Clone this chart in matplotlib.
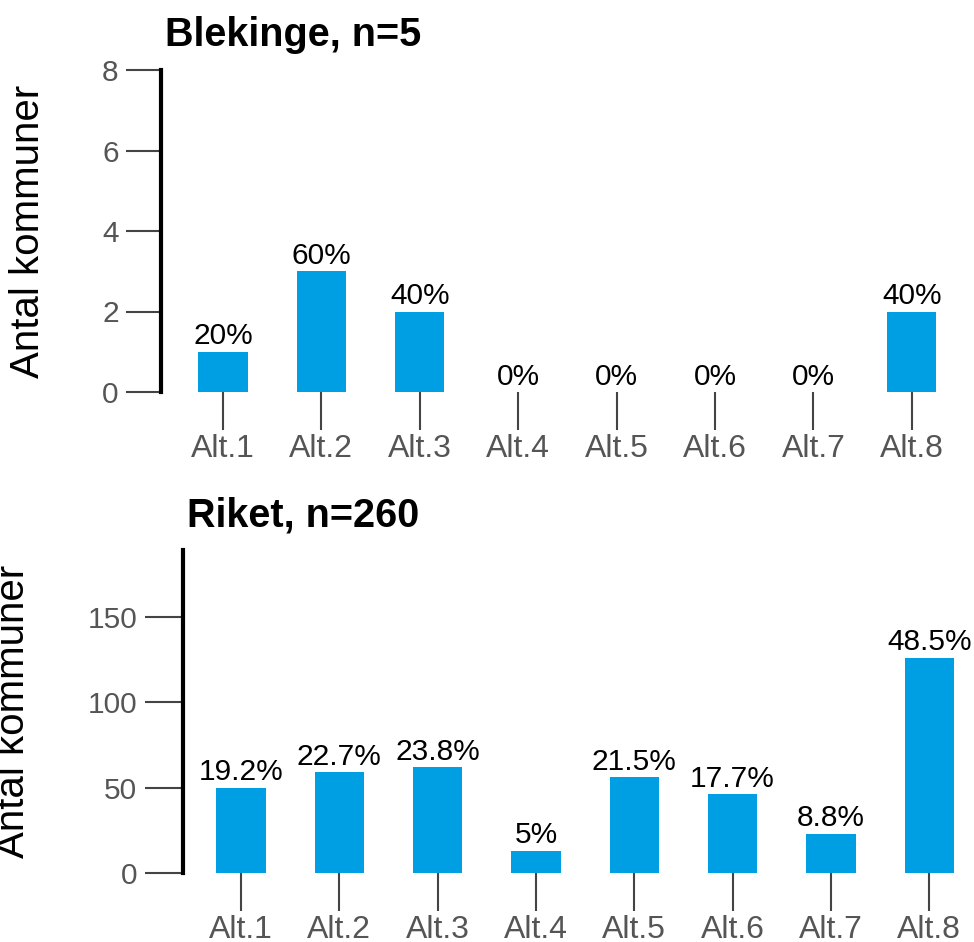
import matplotlib
matplotlib.use("Agg")
import matplotlib.pyplot as plt

categories = ["Alt.1", "Alt.2", "Alt.3", "Alt.4", "Alt.5", "Alt.6", "Alt.7", "Alt.8"]
blekinge_counts = [1, 3, 2, 0, 0, 0, 0, 2]
blekinge_pct = ["20%", "60%", "40%", "0%", "0%", "0%", "0%", "40%"]
riket_counts = [50, 59, 62, 13, 56, 46, 23, 126]
riket_pct = ["19.2%", "22.7%", "23.8%", "5%", "21.5%", "17.7%", "8.8%", "48.5%"]
blekinge_ticks = [0, 2, 4, 6, 8]
riket_ticks = [0, 50, 100, 150]

plt.rcParams['font.family'] = ['Liberation Sans', 'DejaVu Sans']

W, H = 974, 942
fig = plt.figure(figsize=(W / 100, H / 100), dpi=100)

BAR = "#009FE3"
GRAY = "#555555"
TICKC = "#444444"


def px_axes(left, top, right, bottom):
    return fig.add_axes([left / W, 1 - bottom / H, (right - left) / W, (bottom - top) / H])


def panel(ax, counts, pct, ticks, ylim, xlim, title, ytick_len):
    x = list(range(len(categories)))
    ax.bar(x, counts, width=0.5, color=BAR, zorder=2)
    for xi, c, p in zip(x, counts, pct):
        ax.annotate(p, (xi, c), xytext=(0, 1.0), textcoords="offset points",
                    ha="center", va="bottom", fontsize=21.5, color="black")
    ax.set_xlim(*xlim)
    ax.set_ylim(0, ylim)
    ax.set_xticks(x)
    ax.set_xticklabels(categories)
    ax.set_yticks(ticks)
    for s in ["top", "right", "bottom"]:
        ax.spines[s].set_visible(False)
    ax.spines["left"].set_linewidth(3)
    ax.spines["left"].set_color("black")
    ax.tick_params(axis="y", length=ytick_len, width=1.5, color=TICKC, labelsize=21.5,
                   labelcolor=GRAY, pad=5.5)
    ax.tick_params(axis="x", length=27, width=1.5, color=TICKC, labelsize=23,
                   labelcolor=GRAY, pad=3.5)
    ax.set_title(title, loc="left", fontsize=28.5, fontweight="bold", pad=17, x=0.005)
    ax.set_ylabel("Antal kommuner", fontsize=29, color="black")
    ax.yaxis.label.set_verticalalignment("center")
    ax.set_facecolor("none")


ax1 = px_axes(161, 70, 961, 392)
panel(ax1, blekinge_counts, blekinge_pct, blekinge_ticks, 8, (-0.63, 7.5), "Blekinge, n=5", 25)
ax1.yaxis.set_label_coords((28 - 161) / 800, 0.5)

ax2 = px_axes(183, 550, 968.6, 873)
panel(ax2, riket_counts, riket_pct, riket_ticks, 189, (-0.59, 7.4), "Riket, n=260", 27.5)
ax2.yaxis.set_label_coords((13 - 183) / 785.6, 0.5)

fig.savefig("out.png", dpi=100, facecolor="white")
